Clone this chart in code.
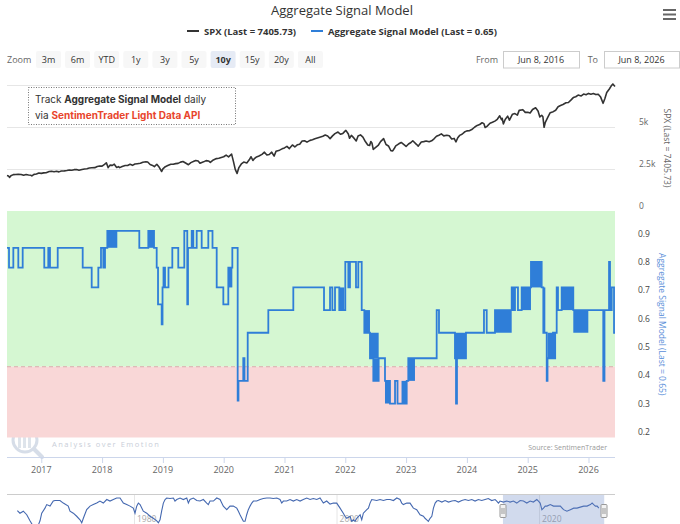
<!DOCTYPE html>
<html>
<head>
<meta charset="utf-8">
<script src="https://cdn.jsdelivr.net/npm/d3@7"></script>
<style>
  body { margin: 0; background: #fff; }
  svg { display: block; font-family: "Open Sans", sans-serif; }
</style>
</head>
<body>
<svg class="signalChart"></svg>
<script>
// Aggregate Signal Model chart, stock-chart style: SPX pane on top,
// signal pane below, navigator at the bottom.
const { select, scaleLinear, line, curveStepAfter } = d3;

const chartTitle = 'Aggregate Signal Model'
const spxName = 'SPX (Last = 7405.73)'
const signalName = 'Aggregate Signal Model (Last = 0.65)'
const zoomButtons = ['3m', '6m', 'YTD', '1y', '3y', '5y', '10y', '15y', '20y', 'All']
const selectedButton = '10y'
const fromDate = 'Jun 8, 2016'
const toDate = 'Jun 8, 2026'
const yearTicks = [2017, 2018, 2019, 2020, 2021, 2022, 2023, 2024, 2025, 2026]
const spxGrid = [0, 2500, 5000, 7500]
const spxTicks = [0, 2500, 5000]
const signalTicks = [0.2, 0.3, 0.4, 0.5, 0.6, 0.7, 0.8, 0.9]
const navTicks = [1980, 2000, 2020]
const viewRange = [2016.436, 2026.436]
const navRange = [1967.46, 2027.5]
const threshold = 0.45

// SPX, [decimal year, close]
const spx = [
  [2016.436, 2112], [2016.46, 2085], [2016.48, 2001], [2016.50, 2100], [2016.54, 2165], [2016.58, 2173],
  [2016.62, 2185], [2016.67, 2171], [2016.71, 2127], [2016.75, 2168], [2016.79, 2140], [2016.83, 2126],
  [2016.845, 2085], [2016.88, 2180], [2016.92, 2199], [2016.96, 2262], [2017.00, 2239], [2017.04, 2270],
  [2017.08, 2279], [2017.13, 2350], [2017.17, 2364], [2017.21, 2340], [2017.25, 2363], [2017.29, 2329],
  [2017.33, 2384], [2017.38, 2390], [2017.42, 2412], [2017.46, 2440], [2017.50, 2423], [2017.54, 2460],
  [2017.58, 2470], [2017.62, 2428], [2017.67, 2472], [2017.71, 2500], [2017.75, 2519], [2017.79, 2560],
  [2017.83, 2575], [2017.88, 2580], [2017.92, 2648], [2017.96, 2680], [2018.00, 2674], [2018.04, 2780],
  [2018.07, 2873], [2018.10, 2581], [2018.13, 2730], [2018.17, 2714], [2018.20, 2786], [2018.24, 2588],
  [2018.27, 2640], [2018.29, 2582], [2018.33, 2648], [2018.38, 2712], [2018.42, 2705], [2018.46, 2779],
  [2018.50, 2718], [2018.54, 2800], [2018.58, 2816], [2018.63, 2840], [2018.67, 2902], [2018.72, 2930],
  [2018.75, 2914], [2018.79, 2770], [2018.83, 2712], [2018.86, 2640], [2018.90, 2780], [2018.94, 2600],
  [2018.98, 2351], [2019.00, 2507], [2019.04, 2640], [2019.08, 2704], [2019.13, 2780], [2019.17, 2784],
  [2019.21, 2820], [2019.25, 2834], [2019.29, 2910], [2019.33, 2946], [2019.38, 2840], [2019.42, 2752],
  [2019.46, 2880], [2019.50, 2942], [2019.54, 3010], [2019.58, 2980], [2019.61, 2840], [2019.64, 2890],
  [2019.67, 2926], [2019.71, 3000], [2019.75, 2977], [2019.78, 2890], [2019.83, 3038], [2019.88, 3120],
  [2019.92, 3141], [2019.96, 3190], [2020.00, 3231], [2020.04, 3330], [2020.08, 3226], [2020.13, 3386],
  [2020.16, 2954], [2020.19, 2480], [2020.22, 2237], [2020.25, 2585], [2020.29, 2800], [2020.33, 2912],
  [2020.38, 2860], [2020.42, 3044], [2020.45, 3230], [2020.48, 3010], [2020.50, 3100], [2020.54, 3220],
  [2020.58, 3271], [2020.63, 3370], [2020.67, 3500], [2020.71, 3330], [2020.75, 3363], [2020.79, 3500],
  [2020.83, 3270], [2020.86, 3550], [2020.92, 3622], [2020.96, 3700], [2021.00, 3756], [2021.04, 3850],
  [2021.08, 3714], [2021.13, 3930], [2021.17, 3811], [2021.21, 3940], [2021.25, 3973], [2021.29, 4170],
  [2021.33, 4181], [2021.37, 4100], [2021.42, 4204], [2021.46, 4240], [2021.50, 4298], [2021.54, 4350],
  [2021.58, 4395], [2021.63, 4450], [2021.67, 4523], [2021.71, 4460], [2021.75, 4308], [2021.79, 4470],
  [2021.83, 4605], [2021.88, 4700], [2021.92, 4567], [2021.96, 4620], [2022.00, 4766], [2022.01, 4797],
  [2022.05, 4580], [2022.07, 4330], [2022.10, 4500], [2022.14, 4350], [2022.18, 4170], [2022.21, 4460],
  [2022.25, 4530], [2022.29, 4400], [2022.33, 4132], [2022.37, 3930], [2022.40, 3900], [2022.42, 4132],
  [2022.44, 4030], [2022.46, 3667], [2022.50, 3785], [2022.54, 3900], [2022.58, 4130], [2022.63, 4305],
  [2022.67, 3955], [2022.71, 3870], [2022.75, 3586], [2022.78, 3577], [2022.81, 3750], [2022.83, 3872],
  [2022.88, 4000], [2022.92, 4080], [2022.95, 3990], [2023.00, 3840], [2023.04, 3990], [2023.08, 4077],
  [2023.11, 4180], [2023.17, 3970], [2023.20, 3860], [2023.25, 4109], [2023.29, 4130], [2023.33, 4169],
  [2023.38, 4120], [2023.42, 4180], [2023.46, 4300], [2023.50, 4450], [2023.54, 4510], [2023.58, 4589],
  [2023.62, 4470], [2023.67, 4508], [2023.71, 4480], [2023.75, 4288], [2023.79, 4320], [2023.82, 4117],
  [2023.85, 4360], [2023.88, 4500], [2023.92, 4568], [2023.96, 4700], [2024.00, 4770], [2024.04, 4780],
  [2024.08, 4846], [2024.13, 5000], [2024.17, 5096], [2024.21, 5150], [2024.25, 5254], [2024.28, 5200],
  [2024.30, 4967], [2024.33, 5036], [2024.38, 5220], [2024.42, 5278], [2024.46, 5350], [2024.50, 5460],
  [2024.54, 5667], [2024.57, 5430], [2024.58, 5522], [2024.60, 5186], [2024.63, 5450], [2024.67, 5648],
  [2024.70, 5410], [2024.75, 5762], [2024.79, 5800], [2024.83, 5705], [2024.86, 5990], [2024.92, 6032],
  [2024.96, 5870], [2025.00, 5882], [2025.04, 5830], [2025.08, 6040], [2025.13, 6144], [2025.17, 5955],
  [2025.20, 5600], [2025.23, 5700], [2025.25, 5612], [2025.27, 4982], [2025.29, 5280], [2025.33, 5569],
  [2025.37, 5850], [2025.42, 5912], [2025.46, 6000], [2025.50, 6205], [2025.54, 6280], [2025.58, 6339],
  [2025.63, 6440], [2025.67, 6460], [2025.71, 6600], [2025.75, 6750], [2025.79, 6800], [2025.83, 6900],
  [2025.88, 6850], [2025.92, 6960], [2025.96, 6920], [2026.00, 7000], [2026.04, 6950], [2026.08, 6990],
  [2026.12, 6930], [2026.16, 6950], [2026.20, 6780], [2026.24, 6410], [2026.27, 6700], [2026.30, 7050],
  [2026.34, 7250], [2026.37, 7420], [2026.40, 7560], [2026.436, 7405]
]

// signal steps, [decimal year, level]
const signal = [
  [2016.436, 0.87], [2016.469, 0.80], [2016.540, 0.87], [2016.622, 0.80], [2016.694, 0.87],
  [2017.049, 0.80], [2017.115, 0.87], [2017.143, 0.80], [2017.270, 0.87], [2017.681, 0.80],
  [2017.829, 0.73], [2017.938, 0.80], [2017.982, 0.87], [2018.020, 0.80], [2018.048, 0.87],
  [2018.086, 0.93], [2018.612, 0.87], [2018.760, 0.93], [2018.854, 0.87], [2018.898, 0.80],
  [2018.920, 0.67], [2018.980, 0.60], [2018.994, 0.73], [2019.010, 0.80], [2019.035, 0.73],
  [2019.092, 0.80], [2019.155, 0.87], [2019.253, 0.80], [2019.352, 0.93], [2019.401, 0.67],
  [2019.413, 0.87], [2019.474, 0.93], [2019.500, 0.87], [2019.556, 0.93], [2019.638, 0.87],
  [2019.747, 0.93], [2019.816, 0.87], [2019.885, 0.73], [2019.994, 0.67], [2020.076, 0.80],
  [2020.142, 0.87], [2020.230, 0.33], [2020.243, 0.40], [2020.322, 0.48], [2020.342, 0.40],
  [2020.395, 0.57], [2020.734, 0.65], [2021.145, 0.73], [2021.650, 0.65], [2021.749, 0.73],
  [2021.787, 0.65], [2021.831, 0.73], [2021.901, 0.65], [2022.000, 0.82], [2022.050, 0.73],
  [2022.077, 0.82], [2022.176, 0.73], [2022.214, 0.82], [2022.270, 0.65], [2022.313, 0.57],
  [2022.406, 0.48], [2022.461, 0.40], [2022.549, 0.48], [2022.653, 0.40], [2022.735, 0.32],
  [2022.818, 0.40], [2022.859, 0.32], [2023.010, 0.40], [2023.036, 0.48], [2023.503, 0.65],
  [2023.541, 0.57], [2023.804, 0.48], [2023.821, 0.32], [2023.837, 0.48], [2023.985, 0.57],
  [2024.281, 0.65], [2024.326, 0.57], [2024.462, 0.65], [2024.737, 0.73], [2024.763, 0.65],
  [2024.791, 0.73], [2024.840, 0.65], [2024.901, 0.73], [2025.054, 0.82], [2025.230, 0.73],
  [2025.257, 0.57], [2025.313, 0.40], [2025.326, 0.48], [2025.416, 0.57], [2025.443, 0.48],
  [2025.452, 0.57], [2025.477, 0.73], [2025.498, 0.65], [2025.559, 0.73], [2025.750, 0.65],
  [2025.997, 0.65], [2026.243, 0.40], [2026.263, 0.65], [2026.338, 0.82], [2026.354, 0.65],
  [2026.382, 0.73], [2026.420, 0.57], [2026.436, 0.57]
]

// stretches where the signal flips day to day: [from, to, low, high]
const signalChop = [
  [2018.086, 2018.250, 0.87, 0.93], [2018.760, 2018.854, 0.87, 0.93], [2020.076, 2020.142, 0.73, 0.80],
  [2021.901, 2021.984, 0.65, 0.73], [2022.313, 2022.406, 0.57, 0.65], [2022.406, 2022.549, 0.48, 0.57],
  [2022.461, 2022.549, 0.40, 0.48], [2022.653, 2022.735, 0.32, 0.40], [2022.925, 2023.010, 0.32, 0.40],
  [2023.036, 2023.146, 0.40, 0.48], [2023.804, 2023.985, 0.48, 0.57], [2024.462, 2024.737, 0.57, 0.65],
  [2024.901, 2025.054, 0.65, 0.73], [2025.054, 2025.230, 0.73, 0.82], [2025.257, 2025.290, 0.57, 0.73],
  [2025.326, 2025.416, 0.48, 0.57], [2025.559, 2025.750, 0.65, 0.73], [2025.750, 2025.997, 0.57, 0.65]
]

// navigator overview of the full history
const navSignal = [
  [1968.48, 0.68], [1968.74, 0.63], [1969.07, 0.67], [1969.41, 0.60], [1969.73, 0.48], [1970.03, 0.38],
  [1970.52, 0.38], [1970.72, 0.48], [1970.89, 0.63], [1971.21, 0.73], [1971.38, 0.80], [1971.71, 0.77],
  [1972.03, 0.87], [1972.20, 0.88], [1972.69, 0.88], [1973.02, 0.83], [1973.51, 0.77], [1973.68, 0.67],
  [1974.01, 0.63], [1974.34, 0.57], [1974.67, 0.50], [1974.84, 0.44], [1975.00, 0.53], [1975.33, 0.70],
  [1975.66, 0.77], [1975.98, 0.80], [1976.32, 0.83], [1976.64, 0.87], [1976.97, 0.83], [1977.31, 0.90],
  [1977.63, 0.87], [1977.96, 0.90], [1978.29, 0.93], [1978.62, 0.93], [1978.95, 0.83], [1979.28, 0.80],
  [1979.61, 0.77], [1979.93, 0.73], [1980.10, 0.63], [1980.27, 0.77], [1980.43, 0.83], [1980.60, 0.80],
  [1980.92, 0.67], [1981.26, 0.63], [1981.58, 0.57], [1981.91, 0.53], [1982.25, 0.48], [1982.41, 0.44],
  [1982.57, 0.50], [1982.74, 0.68], [1982.90, 0.83], [1983.07, 0.90], [1983.23, 0.93], [1983.56, 0.92],
  [1983.89, 0.93], [1984.05, 0.87], [1984.22, 0.90], [1984.55, 0.93], [1984.87, 0.90], [1985.21, 0.93],
  [1985.37, 0.83], [1985.53, 0.90], [1985.86, 0.93], [1986.20, 0.88], [1986.52, 0.87], [1986.85, 0.90],
  [1987.18, 0.83], [1987.34, 0.80], [1987.51, 0.87], [1987.84, 0.87], [1988.17, 0.93], [1988.50, 0.90],
  [1988.82, 0.77], [1989.16, 0.70], [1989.48, 0.77], [1989.81, 0.77], [1990.15, 0.73], [1990.31, 0.67],
  [1990.47, 0.60], [1990.80, 0.47], [1990.97, 0.47], [1991.13, 0.60], [1991.29, 0.70], [1991.46, 0.77],
  [1991.63, 0.83], [1991.79, 0.87], [1992.12, 0.87], [1992.45, 0.90], [1992.77, 0.92], [1993.11, 0.93],
  [1993.43, 0.93], [1993.76, 0.92], [1994.10, 0.93], [1994.42, 0.90], [1994.59, 0.83], [1994.75, 0.87],
  [1995.08, 0.87], [1995.41, 0.90], [1995.74, 0.87], [1996.07, 0.90], [1996.40, 0.87], [1996.72, 0.90],
  [1997.06, 0.93], [1997.39, 0.90], [1997.71, 0.92], [1998.05, 0.90], [1998.37, 0.93], [1998.70, 0.83],
  [1999.03, 0.87], [1999.36, 0.81], [1999.69, 0.83], [2000.02, 0.83], [2000.35, 0.73], [2000.67, 0.63],
  [2000.84, 0.57], [2001.01, 0.53], [2001.34, 0.57], [2001.50, 0.47], [2001.66, 0.50], [2001.83, 0.47],
  [2002.00, 0.53], [2002.33, 0.60], [2002.49, 0.50], [2002.65, 0.63], [2002.99, 0.70], [2003.15, 0.73],
  [2003.31, 0.83], [2003.48, 0.90], [2003.97, 0.88], [2004.30, 0.90], [2004.63, 0.88], [2004.96, 0.90],
  [2005.29, 0.90], [2005.62, 0.88], [2005.95, 0.93], [2006.27, 0.90], [2006.44, 0.83], [2006.60, 0.80],
  [2006.94, 0.83], [2007.26, 0.83], [2007.59, 0.73], [2007.92, 0.70], [2008.25, 0.60], [2008.58, 0.57],
  [2008.74, 0.53], [2008.91, 0.50], [2009.07, 0.47], [2009.24, 0.53], [2009.41, 0.57], [2009.57, 0.73],
  [2009.74, 0.83], [2009.90, 0.87], [2010.07, 0.88], [2010.40, 0.85], [2010.72, 0.88], [2011.06, 0.85],
  [2011.39, 0.87], [2011.71, 0.88], [2012.04, 0.85], [2012.37, 0.88], [2012.70, 0.90], [2013.02, 0.88],
  [2013.36, 0.90], [2013.68, 0.87], [2014.01, 0.90], [2014.34, 0.88], [2014.67, 0.90], [2014.99, 0.92],
  [2015.33, 0.88], [2015.66, 0.90], [2015.82, 0.87], [2015.99, 0.83], [2016.15, 0.87], [2016.48, 0.85],
  [2016.81, 0.87], [2017.14, 0.85], [2017.47, 0.87], [2017.80, 0.83], [2018.13, 0.88], [2018.46, 0.87],
  [2018.79, 0.83], [2019.12, 0.87], [2019.44, 0.85], [2019.78, 0.90], [2019.94, 0.87], [2020.11, 0.83],
  [2020.28, 0.70], [2020.44, 0.73], [2020.61, 0.77], [2020.78, 0.77], [2021.11, 0.80], [2021.43, 0.77],
  [2021.77, 0.77], [2022.10, 0.77], [2022.42, 0.70], [2022.75, 0.67], [2023.09, 0.70], [2023.42, 0.73],
  [2023.75, 0.73], [2024.07, 0.75], [2024.41, 0.77], [2024.74, 0.77], [2025.07, 0.80], [2025.24, 0.83],
  [2025.40, 0.80], [2025.57, 0.77], [2025.74, 0.77], [2025.90, 0.73]
]

const width = 680
const height = 524
const plotLeft = 7
const plotRight = 615

const x = scaleLinear(viewRange, [plotLeft, plotRight])
const ySpx = scaleLinear([0, 7500], [211, 85])
const ySig = scaleLinear([0.2, 1.0], [437.5, 211])
const xNav = scaleLinear(navRange, [plotLeft, plotRight])
const yNav = scaleLinear([0.2, 0.95], [535, 497])

const blue = '#2f7ed8'

function configureSvg(svg) {
    svg.attr('width', width)
        .attr('height', height)
        .attr('viewBox', [0, 0, width, height])
    svg.append('rect').attr('width', width).attr('height', height).attr('fill', '#fff')
    return svg
}

function drawHeader(svg) {
    svg.append('text')
        .attr('x', 342).attr('y', 15)
        .attr('text-anchor', 'middle')
        .attr('font-size', 13).attr('fill', '#333')
        .text(chartTitle)

    // hamburger menu
    svg.append('g').selectAll('line')
        .data([10, 14.5, 19])
        .join('line')
        .attr('x1', 663).attr('x2', 676)
        .attr('y1', d => d).attr('y2', d => d)
        .attr('stroke', '#666').attr('stroke-width', 2)

    const legend = svg.append('g').attr('font-size', 9.5).attr('font-weight', 'bold').attr('fill', '#333')
    const items = [
        { name: spxName, color: '#333', x: 187 },
        { name: signalName, color: blue, x: 311 }
    ]
    items.forEach(d => {
        legend.append('line')
            .attr('x1', d.x).attr('x2', d.x + 12)
            .attr('y1', 31).attr('y2', 31)
            .attr('stroke', d.color).attr('stroke-width', 2)
        legend.append('text').attr('x', d.x + 17).attr('y', 34.5).text(d.name)
    })
    return svg
}

function drawRangeSelector(svg) {
    const g = svg.append('g').attr('font-size', 9)
    g.append('text').attr('x', 7).attr('y', 62.5).attr('fill', '#666').text('Zoom')

    const btn = g.selectAll('g.btn')
        .data(zoomButtons)
        .join('g')
        .attr('transform', (d, i) => `translate(${36 + i * 29.1},51)`)
    btn.append('rect')
        .attr('width', 25).attr('height', 17).attr('rx', 2)
        .attr('fill', d => d === selectedButton ? '#e6ebf5' : '#f7f7f7')
    btn.append('text')
        .attr('x', 12.5).attr('y', 11.5)
        .attr('text-anchor', 'middle')
        .attr('fill', '#333')
        .attr('font-weight', d => d === selectedButton ? 'bold' : null)
        .text(d => d)

    const boxes = [
        { label: 'From', labelX: 498, x: 503, w: 76, value: fromDate },
        { label: 'To', labelX: 598, x: 604, w: 75, value: toDate }
    ]
    boxes.forEach(b => {
        g.append('text').attr('x', b.labelX).attr('y', 62.5)
            .attr('text-anchor', 'end').attr('fill', '#666').text(b.label)
        g.append('rect').attr('x', b.x + 0.5).attr('y', 51.5)
            .attr('width', b.w).attr('height', 16.5)
            .attr('fill', '#fff').attr('stroke', '#ccc')
        g.append('text').attr('x', b.x + b.w / 2).attr('y', 62.5)
            .attr('text-anchor', 'middle').attr('fill', '#333').text(b.value)
    })
    return svg
}

function drawWatermark(svg) {
    const g = svg.append('g').attr('opacity', 0.55)
    g.append('circle').attr('cx', 25).attr('cy', 440).attr('r', 12)
        .attr('fill', 'none').attr('stroke', '#b5c3d6').attr('stroke-width', 3)
    g.append('line').attr('x1', 34).attr('y1', 449).attr('x2', 42).attr('y2', 457)
        .attr('stroke', '#b5c3d6').attr('stroke-width', 4).attr('stroke-linecap', 'round')
    g.selectAll('rect.bar').data([18, 23, 28]).join('rect')
        .attr('x', d => d).attr('y', 436).attr('width', 3).attr('height', 12)
        .attr('fill', '#c4cedb')
    svg.append('text')
        .attr('x', 52).attr('y', 447)
        .attr('font-size', 7.5).attr('letter-spacing', 1.5)
        .attr('fill', '#c9ced8')
        .text('Analysis over Emotion')
    return svg
}

function drawSpxPane(svg) {
    svg.append('g').selectAll('line')
        .data(spxGrid)
        .join('line')
        .attr('x1', plotLeft).attr('x2', plotRight)
        .attr('y1', d => ySpx(d) + 0.5).attr('y2', d => ySpx(d) + 0.5)
        .attr('stroke', '#e6e6e6')

    svg.append('g').attr('font-size', 8.5).attr('fill', '#666')
        .selectAll('text')
        .data(spxTicks)
        .join('text')
        .attr('x', 639).attr('y', d => ySpx(d) - 2.5)
        .text(d => d === 0 ? '0' : `${d / 1000}k`)

    svg.append('text')
        .attr('transform', `translate(664,${(ySpx(0) + ySpx(7500)) / 2}) rotate(90)`)
        .attr('text-anchor', 'middle')
        .attr('font-size', 8.5).attr('fill', '#666')
        .text(spxName)

    const spxLine = line().x(d => x(d[0])).y(d => ySpx(d[1]))
    svg.append('path')
        .datum(spx)
        .attr('fill', 'none')
        .attr('stroke', '#333')
        .attr('stroke-width', 1.6)
        .attr('stroke-linejoin', 'round')
        .attr('d', spxLine)

    // promo box over the top of the pane
    const box = svg.append('g')
    box.append('rect')
        .attr('x', 28.5).attr('y', 87.5).attr('width', 207).attr('height', 37)
        .attr('fill', '#fff').attr('stroke', '#777').attr('stroke-dasharray', '1,1.5')
    const t1 = box.append('text').attr('x', 35).attr('y', 102.5)
        .attr('font-family', 'Inter, sans-serif').attr('font-size', 10).attr('fill', '#333')
    t1.append('tspan').text('Track ')
    t1.append('tspan').attr('font-weight', 'bold').text('Aggregate Signal Model')
    t1.append('tspan').text(' daily')
    const t2 = box.append('text').attr('x', 35).attr('y', 118.5)
        .attr('font-family', 'Inter, sans-serif').attr('font-size', 10).attr('fill', '#333')
    t2.append('tspan').text('via ')
    t2.append('tspan').attr('font-weight', 'bold').attr('fill', '#e8452c').text('SentimenTrader Light Data API')
    return svg
}

function drawSignalPane(svg) {
    svg.append('rect')
        .attr('x', plotLeft).attr('width', plotRight - plotLeft)
        .attr('y', ySig(1.0)).attr('height', ySig(threshold) - ySig(1.0))
        .attr('fill', '#d5f7d2')
    svg.append('rect')
        .attr('x', plotLeft).attr('width', plotRight - plotLeft)
        .attr('y', ySig(threshold)).attr('height', ySig(0.2) - ySig(threshold))
        .attr('fill', '#f9d7d7')
    svg.append('line')
        .attr('x1', plotLeft).attr('x2', plotRight)
        .attr('y1', ySig(threshold)).attr('y2', ySig(threshold))
        .attr('stroke', '#d9aeae').attr('stroke-dasharray', '4,3')

    svg.append('g').attr('font-size', 8.5).attr('fill', '#444')
        .selectAll('text')
        .data(signalTicks)
        .join('text')
        .attr('x', 638).attr('y', d => ySig(d) - 2.5)
        .text(d => d.toFixed(1))

    svg.append('text')
        .attr('transform', `translate(659,${(ySig(0.2) + ySig(1.0)) / 2}) rotate(90)`)
        .attr('text-anchor', 'middle')
        .attr('font-size', 8.5).attr('fill', '#5b8fd9')
        .text(signalName)

    svg.append('g').selectAll('rect')
        .data(signalChop)
        .join('rect')
        .attr('x', d => x(d[0]))
        .attr('width', d => x(d[1]) - x(d[0]))
        .attr('y', d => ySig(d[3]))
        .attr('height', d => ySig(d[2]) - ySig(d[3]))
        .attr('fill', blue)

    const sigLine = line().curve(curveStepAfter).x(d => x(d[0])).y(d => ySig(d[1]))
    svg.append('path')
        .datum(signal)
        .attr('fill', 'none')
        .attr('stroke', blue)
        .attr('stroke-width', 1.8)
        .attr('d', sigLine)

    svg.append('text')
        .attr('x', 607).attr('y', 450)
        .attr('text-anchor', 'end')
        .attr('font-size', 7).attr('fill', '#999')
        .text('Source: SentimenTrader')
    return svg
}

function drawXAxis(svg) {
    const g = svg.append('g')
    g.append('line')
        .attr('x1', plotLeft).attr('x2', plotRight)
        .attr('y1', 457.5).attr('y2', 457.5)
        .attr('stroke', '#ccd6eb')
    g.selectAll('line.tick')
        .data(yearTicks)
        .join('line')
        .attr('x1', d => x(d) + 0.5).attr('x2', d => x(d) + 0.5)
        .attr('y1', 457.5).attr('y2', 463)
        .attr('stroke', '#ccd6eb')
    g.selectAll('text')
        .data(yearTicks)
        .join('text')
        .attr('x', d => x(d)).attr('y', 472.5)
        .attr('text-anchor', 'middle')
        .attr('font-size', 9).attr('fill', '#666')
        .text(d => d)
    return svg
}

function drawNavigator(svg) {
    const g = svg.append('g')
    g.selectAll('line.grid')
        .data(navTicks)
        .join('line')
        .attr('x1', d => xNav(d) + 0.5).attr('x2', d => xNav(d) + 0.5)
        .attr('y1', 495).attr('y2', 535)
        .attr('stroke', '#e6e6e6')
    g.selectAll('text')
        .data(navTicks)
        .join('text')
        .attr('x', d => xNav(d) + 3).attr('y', 522)
        .attr('font-size', 8.5).attr('fill', '#aaa')
        .text(d => d)

    const navLine = line().x(d => xNav(d[0])).y(d => yNav(d[1]))
    g.append('path')
        .datum(navSignal)
        .attr('fill', 'none')
        .attr('stroke', '#4468b0')
        .attr('stroke-width', 1.1)
        .attr('d', navLine)

    const x0 = xNav(viewRange[0])
    const x1 = xNav(viewRange[1])
    g.append('rect')
        .attr('x', x0).attr('width', x1 - x0)
        .attr('y', 495).attr('height', 40)
        .attr('fill', 'rgba(102,133,194,0.3)')
    g.append('line')
        .attr('x1', plotLeft).attr('x2', plotRight)
        .attr('y1', 494.5).attr('y2', 494.5)
        .attr('stroke', '#ccc')

    const handles = g.selectAll('g.handle')
        .data([x0, x1])
        .join('g')
        .attr('transform', d => `translate(${Math.round(d) - 3},504.5)`)
    handles.append('rect')
        .attr('width', 6).attr('height', 13).attr('rx', 1)
        .attr('fill', '#f2f2f2').attr('stroke', '#999')
    handles.selectAll('line')
        .data([2, 4])
        .join('line')
        .attr('x1', d => d).attr('x2', d => d)
        .attr('y1', 3.5).attr('y2', 9.5)
        .attr('stroke', '#999')
    return svg
}

function plotChart() {
    let svg = select('svg.signalChart')
    svg = configureSvg(svg)
    svg = drawHeader(svg)
    svg = drawRangeSelector(svg)
    svg = drawWatermark(svg)
    svg = drawSpxPane(svg)
    svg = drawSignalPane(svg)
    svg = drawXAxis(svg)
    svg = drawNavigator(svg)
}

plotChart()
</script>
</body>
</html>
